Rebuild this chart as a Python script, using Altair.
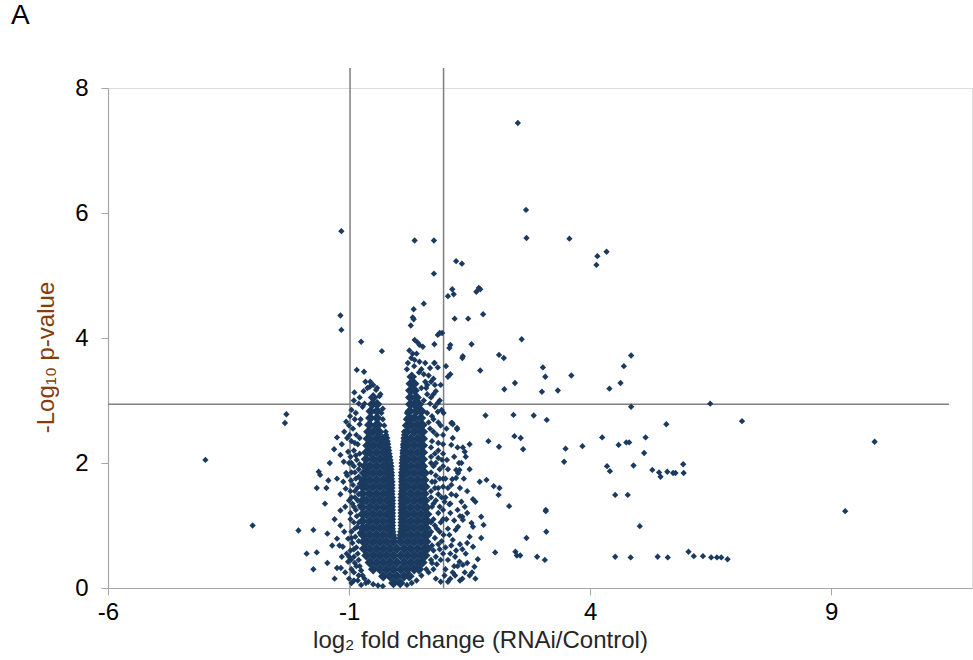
import altair as alt
import pandas as pd

# ---------------- data ----------------
x_ticks = [-6, -1, 4, 9]
y_ticks = [0, 2, 4, 6, 8]

# threshold lines
fc_thresholds = [-0.98, 0.96]
p_threshold = 2.94
vline_top = 8.32
hline_left, hline_right = -6.0, 11.44

# dense core of the volcano cloud: (y, [x values])
core_rows = [
    (0.08, [-0.08, 0.06]),
    (0.19, [-0.29, -0.15, -0.01, 0.14, 0.25]),
    (0.30, [-0.50, -0.36, -0.22, -0.08, 0.07, 0.21, 0.35, 0.45]),
    (0.41, [-0.57, -0.43, -0.29, -0.15, -0.01, 0.14, 0.28, 0.42, 0.52]),
    (0.52, [-0.64, -0.50, -0.36, -0.22, -0.08, 0.07, 0.21, 0.35, 0.49, 0.58]),
    (0.63, [-0.69, -0.57, -0.43, -0.29, -0.15, -0.01, 0.14, 0.28, 0.42, 0.56, 0.62]),
    (0.74, [-0.70, -0.64, -0.50, -0.36, -0.22, -0.08, 0.07, 0.21, 0.35, 0.49, 0.60]),
    (0.85, [-0.71, -0.57, -0.43, -0.29, -0.15, 0.14, 0.28, 0.42, 0.56, 0.62]),
    (0.96, [-0.72, -0.64, -0.50, -0.36, -0.22, -0.15, 0.14, 0.21, 0.35, 0.49, 0.60]),
    (1.07, [-0.72, -0.57, -0.43, -0.29, -0.15, 0.14, 0.28, 0.42, 0.56, 0.62]),
    (1.18, [-0.72, -0.64, -0.50, -0.36, -0.22, -0.15, 0.14, 0.21, 0.35, 0.49, 0.62]),
    (1.29, [-0.72, -0.57, -0.43, -0.29, -0.16, 0.14, 0.28, 0.42, 0.56, 0.60]),
    (1.40, [-0.72, -0.64, -0.50, -0.36, -0.22, -0.16, 0.14, 0.21, 0.35, 0.49, 0.58]),
    (1.51, [-0.72, -0.57, -0.43, -0.29, -0.17, 0.14, 0.28, 0.42, 0.56]),
    (1.62, [-0.72, -0.64, -0.50, -0.36, -0.22, -0.17, 0.14, 0.21, 0.35, 0.49, 0.58]),
    (1.73, [-0.70, -0.57, -0.43, -0.29, -0.18, 0.14, 0.28, 0.42, 0.56]),
    (1.84, [-0.69, -0.64, -0.50, -0.36, -0.22, -0.19, 0.14, 0.21, 0.35, 0.49, 0.57]),
    (1.95, [-0.67, -0.57, -0.43, -0.29, -0.21, 0.15, 0.28, 0.42, 0.53]),
    (2.06, [-0.65, -0.50, -0.36, -0.23, 0.15, 0.21, 0.35, 0.49, 0.53]),
    (2.17, [-0.64, -0.57, -0.43, -0.29, -0.24, 0.16, 0.28, 0.42, 0.53]),
    (2.28, [-0.62, -0.50, -0.36, -0.27, 0.17, 0.21, 0.35, 0.49, 0.53]),
    (2.39, [-0.61, -0.57, -0.43, -0.31, 0.18, 0.28, 0.42, 0.53]),
    (2.50, [-0.60, -0.50, -0.38, 0.20, 0.35, 0.49, 0.53]),
    (2.61, [-0.58, -0.43, -0.40, 0.22, 0.28, 0.42, 0.52]),
    (2.72, [-0.56, -0.42, 0.25, 0.35, 0.49]),
    (2.83, [-0.55, -0.42, 0.26, 0.40, 0.50]),
    (2.94, [-0.52, -0.42, 0.27, 0.35, 0.45]),
    (3.05, [-0.50, 0.27, 0.40]),
    (3.16, [0.27, 0.36]),
    (3.27, [0.28, 0.35]),
    (3.38, [0.30]),
]

# points along the inner V gap of the cloud
gap_edge = [
    (-0.05, 0.80), (0.04, 0.80), (-0.07, 0.85), (0.05, 0.85),
    (-0.08, 0.90), (0.06, 0.90), (-0.09, 0.95), (0.07, 0.95),
    (-0.09, 1.00), (0.07, 1.00), (-0.09, 1.05), (0.07, 1.05),
    (-0.09, 1.10), (0.07, 1.10), (-0.09, 1.15), (0.07, 1.15),
    (-0.09, 1.20), (0.07, 1.20), (-0.09, 1.25), (0.07, 1.25),
    (-0.09, 1.30), (0.07, 1.30), (-0.09, 1.35), (0.07, 1.35),
    (-0.09, 1.40), (0.07, 1.40), (-0.09, 1.45), (0.07, 1.45),
    (-0.10, 1.50), (0.07, 1.50), (-0.10, 1.55), (0.08, 1.55),
    (-0.10, 1.60), (0.08, 1.60), (-0.10, 1.65), (0.08, 1.65),
    (-0.10, 1.70), (0.08, 1.70), (-0.11, 1.75), (0.08, 1.75),
    (-0.11, 1.80), (0.08, 1.80), (-0.11, 1.85), (0.08, 1.85),
    (-0.12, 1.90), (0.09, 1.90), (-0.12, 1.95), (0.09, 1.95),
    (-0.13, 2.00), (0.09, 2.00), (-0.14, 2.05), (0.10, 2.05),
    (-0.15, 2.10), (0.10, 2.10), (-0.16, 2.15), (0.11, 2.15),
    (-0.17, 2.20), (0.11, 2.20), (-0.18, 2.25), (0.12, 2.25),
    (-0.19, 2.30), (0.12, 2.30), (-0.20, 2.35), (0.13, 2.35),
    (-0.21, 2.40), (0.13, 2.40), (-0.23, 2.45), (0.14, 2.45),
    (-0.24, 2.50), (0.14, 2.50), (-0.27, 2.60), (0.16, 2.60),
    (-0.30, 2.70), (0.18, 2.70), (-0.33, 2.80), (0.20, 2.80),
]

# ragged outer fringe of the cloud
fringe = [
    # left side
    (-0.95, 2.85), (-0.88, 2.70), (-0.92, 2.55), (-0.85, 2.45), (-0.95, 2.35),
    (-0.82, 2.30), (-0.90, 2.20), (-0.97, 2.10), (-0.84, 2.05), (-0.90, 1.95),
    (-0.80, 1.90), (-0.95, 1.85), (-0.86, 1.75), (-0.92, 1.65), (-0.83, 1.60),
    (-0.97, 1.55), (-0.88, 1.45), (-0.82, 1.40), (-0.93, 1.35), (-0.86, 1.25),
    (-0.97, 1.20), (-0.84, 1.15), (-0.90, 1.05), (-0.83, 0.98), (-0.95, 0.90),
    (-0.87, 0.82), (-0.93, 0.72), (-0.85, 0.65), (-0.97, 0.60), (-0.90, 0.50),
    (-0.80, 0.45), (-0.85, 0.35), (-0.95, 0.30), (-0.75, 0.28), (-0.80, 0.20),
    (-0.68, 0.15), (-0.60, 0.10), (-0.50, 0.06), (-0.40, 0.04), (-0.30, 0.03),
    (-0.90, 0.12), (-1.00, 0.50), (-1.00, 1.40), (-1.00, 2.00), (-1.00, 2.60),
    (-0.76, 2.70), (-0.72, 2.90), (-0.78, 3.05), (-0.70, 3.15), (-0.62, 3.20),
    (-0.50, 3.25), (-0.42, 3.20), (-0.35, 3.10), (-0.66, 3.30), (-0.56, 3.30),
    (-1.00, 0.15), (-0.95, 0.08),
    (-0.80, 2.95), (-0.86, 2.80), (-0.78, 2.62), (-0.99, 2.45), (-0.78, 2.40),
    (-0.88, 2.32), (-0.78, 2.15), (-0.86, 2.12), (-0.95, 2.00), (-0.78, 1.98),
    (-0.88, 1.85), (-0.80, 1.78), (-0.96, 1.72), (-0.78, 1.67), (-0.88, 1.55),
    (-0.80, 1.50), (-0.95, 1.45), (-0.78, 1.32), (-0.90, 1.30), (-0.97, 1.10),
    (-0.80, 1.05), (-0.88, 0.95), (-0.78, 0.88), (-0.95, 0.80), (-0.80, 0.75),
    (-0.90, 0.62), (-0.82, 0.55), (-0.96, 0.45), (-0.88, 0.40), (-0.78, 0.35),
    (-0.90, 0.25), (-0.72, 0.20), (-0.82, 0.12), (-0.65, 0.08), (-0.75, 0.05),
    (-1.08, 0.25), (-1.05, 0.55), (-1.10, 0.90), (-1.08, 1.30), (-1.12, 1.70),
    (-1.04, 2.40), (-1.10, 2.50), (-0.98, 2.75), (-0.90, 3.00),
    # right side
    (0.72, 0.40), (0.80, 0.50), (0.75, 0.60), (0.85, 0.70), (0.78, 0.80),
    (0.92, 0.75), (0.70, 0.90), (0.82, 0.95), (0.90, 1.05), (0.75, 1.10),
    (0.85, 1.20), (0.95, 1.25), (0.72, 1.30), (0.80, 1.40), (0.92, 1.45),
    (0.70, 1.55), (0.85, 1.60), (0.78, 1.70), (0.95, 1.75), (0.70, 1.85),
    (0.88, 1.90), (0.80, 2.00), (0.93, 2.05), (0.70, 2.10), (0.85, 2.20),
    (0.95, 2.30), (0.72, 2.35), (0.82, 2.45), (0.68, 2.55), (0.90, 2.60),
    (0.75, 2.70), (0.62, 2.80), (0.84, 2.82), (0.96, 2.80), (0.84, 2.96),
    (0.55, 3.00), (0.62, 3.10), (0.50, 3.20), (0.58, 3.30), (0.65, 3.40),
    (0.75, 3.35), (0.45, 3.45), (0.20, 3.50), (0.35, 3.55), (0.50, 3.50),
    (0.60, 3.20), (0.70, 3.05), (0.78, 3.25), (0.80, 3.15), (0.77, 3.60),
    (0.84, 3.53), (0.60, 0.30), (0.50, 0.20), (0.40, 0.12), (0.30, 0.08),
    (0.20, 0.05), (0.65, 0.25), (0.75, 0.30), (0.70, 3.30), (0.90, 3.25),
    (0.75, 3.10), (0.88, 3.00), (0.92, 2.85), (0.72, 2.75),
    (0.70, 0.45), (0.82, 0.38), (0.90, 0.45), (0.95, 0.55), (0.88, 0.62),
    (0.72, 0.68), (0.96, 0.85), (0.88, 0.90), (0.78, 1.00), (0.70, 1.05),
    (0.95, 1.10), (0.88, 1.30), (0.75, 1.35), (0.98, 1.38), (0.70, 1.45),
    (0.85, 1.50), (0.78, 1.60), (0.95, 1.62), (0.72, 1.70), (0.88, 1.75),
    (0.80, 1.80), (0.75, 1.95), (0.95, 1.95), (0.70, 2.00), (0.85, 2.08),
    (0.78, 2.15), (0.95, 2.15), (0.70, 2.25), (0.85, 2.32), (0.75, 2.50),
    (0.95, 2.45), (0.85, 2.65), (0.65, 2.65), (0.78, 2.90), (0.68, 2.95),
    (0.62, 3.25), (0.55, 3.42), (0.68, 3.52), (0.58, 3.60),
]

# scattered proteins outside the dense cloud
scatter = [
    # above the right arm
    (0.29, 3.68), (0.36, 3.65), (0.46, 3.62), (0.36, 3.97), (0.46, 3.89),
    (0.53, 3.86), (0.42, 3.93), (0.28, 4.20), (0.32, 4.33), (0.34, 4.30),
    (0.34, 4.46), (0.55, 4.55), (0.25, 3.80), (0.32, 3.75), (0.22, 3.60),
    (0.40, 3.75), (0.88, 4.08), (0.93, 4.08), (0.84, 4.05), (0.77, 3.90),
    (0.77, 3.60), (1.01, 3.55),
    # above the left arm
    (-0.75, 3.94), (-0.32, 3.79), (-0.84, 3.49), (-0.69, 3.46), (-0.57, 3.22),
    (-0.44, 3.17), (-0.37, 3.07), (-0.89, 3.13), (-0.68, 2.95), (-0.30, 2.87),
    (-1.18, 4.36), (-1.16, 4.13), (-1.16, 5.71),
    # highest points
    (0.36, 5.56), (0.76, 5.56), (0.76, 5.03), (1.22, 5.23), (1.34, 5.19),
    (2.50, 7.44), (2.67, 6.05), (2.68, 5.60), (3.57, 5.59), (4.34, 5.38),
    (4.15, 5.31), (4.13, 5.17),
    # upper right
    (1.14, 4.78), (1.17, 4.70), (1.05, 4.67), (1.64, 4.74), (1.69, 4.80),
    (1.72, 4.78), (1.19, 4.31), (1.47, 4.31), (1.78, 4.38), (1.10, 3.89),
    (1.08, 3.84), (1.54, 3.90), (1.36, 3.71), (1.35, 3.68), (2.58, 3.98),
    (2.11, 3.73), (2.21, 3.68), (1.72, 3.48), (1.10, 3.42), (1.05, 3.38),
    (3.02, 3.53), (3.07, 3.38), (3.61, 3.40), (4.85, 3.72), (4.70, 3.55),
    (4.63, 3.28), (4.40, 3.19), (2.22, 3.18), (2.44, 3.28), (3.00, 3.14),
    (3.33, 3.16), (4.85, 2.90), (6.49, 2.95), (1.14, 2.64), (1.24, 2.56),
    # lower right
    (1.83, 2.76), (2.41, 2.77), (2.83, 2.76), (3.10, 2.69), (5.58, 2.62),
    (2.43, 2.43), (2.56, 2.40), (1.89, 2.35), (2.11, 2.26), (2.61, 2.22),
    (3.49, 2.23), (3.84, 2.27), (4.25, 2.41), (4.59, 2.29), (4.75, 2.33),
    (4.81, 2.33), (5.15, 2.41), (5.12, 2.16), (3.46, 2.02), (4.35, 1.95),
    (4.41, 1.87), (4.90, 1.96), (5.29, 1.89), (5.43, 1.85), (5.46, 1.78),
    (5.60, 1.86), (5.72, 1.84), (5.77, 1.84), (5.93, 1.98), (5.94, 1.84),
    (4.52, 1.49), (4.78, 1.49), (5.03, 0.99), (3.08, 1.25), (3.08, 1.23),
    (3.09, 0.90), (2.68, 0.80), (2.32, 1.31), (2.03, 0.57), (2.45, 0.58),
    (2.48, 0.52), (2.55, 0.52), (2.90, 0.50), (3.06, 0.45), (4.52, 0.50),
    (4.84, 0.49), (5.40, 0.50), (5.61, 0.49), (6.04, 0.58), (6.15, 0.51),
    (6.34, 0.51), (6.51, 0.49), (6.63, 0.49), (6.72, 0.49), (6.85, 0.46),
    (7.15, 2.67), (9.90, 2.34), (9.29, 1.23),
    # just right of the cloud
    (1.15, 2.62), (1.36, 2.25), (1.40, 2.18), (1.42, 2.10), (1.33, 2.00),
    (1.22, 1.89), (1.26, 1.84), (1.14, 1.74), (1.71, 1.70), (1.85, 1.73),
    (2.00, 1.63), (2.12, 1.60), (2.10, 1.49), (1.33, 1.38), (1.57, 1.42),
    (1.62, 1.38), (1.35, 1.14), (1.36, 1.09), (1.74, 1.14), (1.79, 1.01),
    (1.54, 1.04), (1.57, 0.98), (1.50, 0.82), (1.74, 0.80), (1.57, 0.66),
    (1.45, 0.72), (1.60, 0.34), (1.36, 0.37), (1.29, 0.42), (1.67, 0.46),
    (1.12, 2.29), (1.03, 2.05), (1.05, 1.90), (1.28, 2.00), (1.29, 1.89),
    (1.22, 1.76), (1.12, 1.65), (1.08, 1.34), (1.21, 0.93), (1.26, 0.98),
    (1.15, 0.77), (1.12, 2.64), (1.24, 2.54), (1.00, 0.30), (1.05, 0.45),
    (1.10, 0.55), (1.00, 0.65), (1.08, 0.85), (1.02, 1.10), (1.10, 1.20),
    (1.00, 1.45), (1.12, 1.50), (1.05, 1.60), (1.00, 1.75), (1.15, 2.40),
    (1.02, 2.55), (1.10, 0.15), (1.20, 0.20), (1.30, 0.12), (1.40, 0.25),
    (1.18, 0.35), (1.22, 0.60), (1.30, 0.70), (1.25, 1.25), (1.40, 1.30),
    (1.45, 1.55), (1.30, 1.60), (1.50, 1.90), (1.42, 0.55), (1.50, 0.20),
    (0.98, 0.20), (0.90, 0.10), (0.80, 0.15),
    (1.05, 0.10), (1.15, 0.25), (1.25, 0.35), (1.35, 0.15), (1.45, 0.40),
    (1.55, 0.25), (1.62, 0.15), (1.20, 0.50), (1.35, 0.62), (1.12, 0.68),
    (1.05, 0.95), (1.18, 1.08), (1.30, 1.15), (1.45, 1.20), (1.10, 1.35),
    (1.22, 1.48), (1.38, 1.75), (1.18, 2.10), (1.25, 2.25), (1.50, 2.30),
    # left of the cloud
    (-2.30, 2.78), (-2.33, 2.64), (-3.98, 2.05), (-3.00, 1.00), (-1.06, 2.66),
    (-1.25, 2.41), (-1.31, 2.22), (-1.18, 2.13), (-1.11, 2.02), (-1.02, 2.18),
    (-1.63, 1.86), (-1.60, 1.81), (-1.43, 1.72), (-1.06, 1.84), (-1.04, 1.80),
    (-1.67, 1.60), (-1.47, 1.60), (-1.07, 1.59), (-1.18, 1.50), (-1.18, 1.24),
    (-1.18, 1.00), (-2.05, 0.92), (-1.74, 0.93), (-1.45, 0.87), (-1.25, 0.79),
    (-1.35, 0.68), (-1.20, 0.68), (-1.13, 0.66), (-1.02, 0.79), (-1.88, 0.55),
    (-1.67, 0.57), (-1.02, 0.42), (-1.74, 0.30), (-1.25, 0.32), (-1.17, 0.32),
    (-1.30, 0.15), (-1.45, 0.40), (-1.15, 0.50), (-1.30, 1.10), (-1.50, 1.35),
    (-1.25, 1.75), (-1.40, 2.00), (-1.15, 2.30),
]

x_title = "log\u2082 fold change (RNAi/Control)"
y_title = "-Log\u2081\u2080 p-value"
panel_label = "A"

# ---------------- tables ----------------
core_df = pd.DataFrame([(x, y) for y, xs in core_rows for x in xs], columns=["x", "y"])
small_df = pd.DataFrame(gap_edge + fringe + scatter, columns=["x", "y"])
vline_df = pd.DataFrame({"x": fc_thresholds, "y": [0.0] * len(fc_thresholds),
                         "y2": [vline_top] * len(fc_thresholds)})
hline_df = pd.DataFrame({"x": [hline_left], "x2": [hline_right], "y": [p_threshold]})

FONT = "Liberation Sans"
POINT = "#1B3A60"
AXIS_GREY = "#A6A6A6"
hyphen_labels = "datum.value < 0 ? '-' + (-datum.value) : '' + datum.value"

xscale = alt.Scale(domain=[-6, 11.92], nice=False, zero=False)
yscale = alt.Scale(domain=[0, 8], nice=False, zero=False)
xaxis = alt.Axis(values=x_ticks, title=x_title, grid=False, tickSize=7,
                 labelPadding=5, titlePadding=4, titleX=372,
                 labelFontSize=24, titleFontSize=24,
                 labelFont=FONT, titleFont=FONT, labelColor="#000000",
                 titleColor="#262626", titleFontWeight="normal",
                 domainColor=AXIS_GREY, tickColor=AXIS_GREY, domainWidth=1.2,
                 labelFlush=False, labelOverlap=False, labelExpr=hyphen_labels)
yaxis = alt.Axis(values=y_ticks, title=y_title, grid=False, tickSize=7,
                 labelPadding=13, titlePadding=16, titleY=269,
                 labelFontSize=24, titleFontSize=24,
                 labelFont=FONT, titleFont=FONT, labelColor="#000000",
                 titleColor="#843C0C", titleFontWeight="normal",
                 domainColor=AXIS_GREY, tickColor=AXIS_GREY, domainWidth=1.2,
                 labelFlush=False, labelOverlap=False)

X = alt.X("x:Q", scale=xscale, axis=xaxis)
Y = alt.Y("y:Q", scale=yscale, axis=yaxis)

vlines = alt.Chart(vline_df).mark_rule(color="#7F7F7F", strokeWidth=1.5).encode(
    x=X, y=Y, y2="y2:Q")
hline = alt.Chart(hline_df).mark_rule(color="#7F7F7F", strokeWidth=1.5).encode(
    x=X, x2="x2:Q", y=Y)
core = alt.Chart(core_df).mark_point(shape="diamond", filled=True, size=112,
                                     color=POINT, opacity=1, strokeWidth=0).encode(x=X, y=Y)
small = alt.Chart(small_df).mark_point(shape="diamond", filled=True, size=40,
                                       color=POINT, opacity=1, strokeWidth=0).encode(x=X, y=Y)

chart = alt.layer(vlines, hline, core, small).properties(
    width=864, height=500,
    autosize=alt.AutoSizeParams(type="none"),
    padding={"left": 108, "top": 88, "right": 1, "bottom": 72},
    title=alt.TitleParams(panel_label, anchor="start", frame="group", dx=-97,
                          offset=15, baseline="alphabetic", fontSize=28,
                          fontWeight="normal", font=FONT, color="#000000"),
).configure_view(stroke=None).configure(background="white")

chart.save("out.html", embed_options={"renderer": "svg", "actions": False})
